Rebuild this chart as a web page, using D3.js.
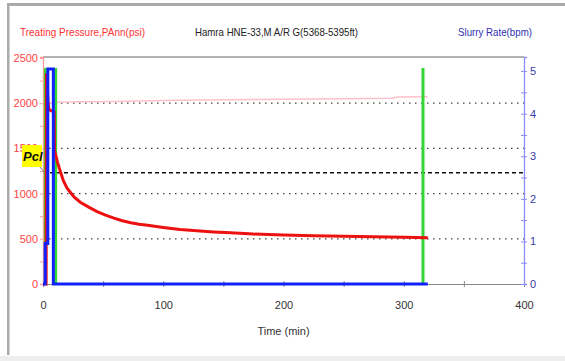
<!DOCTYPE html>
<html lang="en">
<head>
    <meta charset="UTF-8">
    <title>Hamra HNE-33 Treating Pressure</title>
    <script src="https://d3js.org/d3.v7.min.js"></script>
    <style>
        body { margin: 0; background: white; }
        text { font-family: "Liberation Sans", Arial, sans-serif; }
    </style>
</head>
<body>
    <div id="chart"></div>
    <script>
        // treating pressure (psi) vs time (min)
        const pTime = [0, 2.6, 2.9, 3.4, 4.2, 5, 7, 9.3, 9.6, 10.5, 12, 14, 17, 20, 23, 26, 31, 38, 45, 52, 59, 66, 73, 80, 87, 100, 114, 128, 142, 156, 175, 200, 225, 250, 275, 300, 320];
        const pressure = [0, 0, 2330, 2250, 2000, 1930, 1915, 1905, 1470, 1430, 1350, 1260, 1140, 1060, 1010, 960, 905, 850, 800, 762, 728, 700, 678, 662, 650, 626, 604, 588, 576, 566, 552, 541, 533, 527, 522, 518, 512];

        // annulus pressure (faint trace)
        const pAnnTime = [5, 8, 12, 30, 60, 100, 150, 200, 250, 290, 295, 320];
        const pAnn = [2005, 1995, 2010, 2015, 2020, 2030, 2038, 2045, 2050, 2055, 2068, 2070];

        // slurry rate (bpm)
        const rateTime = [0, 1.8, 1.8, 4, 4, 8.6, 8.6, 320];
        const rate = [0, 0, 0.95, 0.95, 5.05, 5.05, 0, 0];

        // event markers (vertical green lines)
        const markerTime = [2, 10.5, 316];
        const markerTop = 2390;

        const pclValue = 1230;
        const gridValues = [500, 1000, 1500, 2000];
        const xTicks = [0, 100, 200, 300, 400];
        const leftTicks = [0, 500, 1000, 1500, 2000, 2500];
        const rightTicks = [0, 1, 2, 3, 4, 5];

        const width = 565;
        const height = 361;
        const margin = { top: 57, right: 41, bottom: 77, left: 43 };
        const innerW = width - margin.left - margin.right;
        const innerH = height - margin.top - margin.bottom;

        const svg = d3.select('#chart').append('svg')
            .attr('width', width)
            .attr('height', height);

        // outer frame
        svg.append('rect').attr('x', 7).attr('y', 3).attr('width', width - 7).attr('height', 3).attr('fill', '#aaa');
        svg.append('rect').attr('x', 7).attr('y', 3).attr('width', 2.5).attr('height', 352).attr('fill', '#aaa');
        svg.append('rect').attr('x', 0).attr('y', 356).attr('width', width).attr('height', 5).attr('fill', '#eeeeee');

        // header texts
        svg.append('text').attr('x', 20).attr('y', 36).attr('fill', '#ff3333')
            .attr('font-size', 10.5).attr('textLength', 125).attr('lengthAdjust', 'spacingAndGlyphs')
            .text('Treating Pressure,PAnn(psi)');
        svg.append('text').attr('x', 195).attr('y', 36).attr('fill', '#222')
            .attr('font-size', 10.5).attr('textLength', 163).attr('lengthAdjust', 'spacingAndGlyphs')
            .text('Hamra HNE-33,M A/R G(5368-5395ft)');
        svg.append('text').attr('x', 458).attr('y', 36).attr('fill', '#3030b0')
            .attr('font-size', 10.5).attr('textLength', 74).attr('lengthAdjust', 'spacingAndGlyphs')
            .text('Slurry Rate(bpm)');

        const g = svg.append('g')
            .attr('transform', 'translate(' + margin.left + ',' + margin.top + ')');

        const x = d3.scaleLinear().domain([0, 400]).range([0, innerW]);
        const yP = d3.scaleLinear().domain([0, 2500 * 227 / 226]).range([innerH, 0]);
        const yR = d3.scaleLinear().domain([0, 5.33]).range([innerH, 0]);

        // top border of plot
        g.append('line').attr('x1', 0).attr('x2', innerW).attr('y1', 0).attr('y2', 0)
            .attr('stroke', '#999').attr('stroke-width', 1.5);

        // dotted grid lines
        g.append('g')
            .selectAll('line')
            .data(gridValues)
            .enter().append('line')
            .attr('x1', 0)
            .attr('x2', innerW)
            .attr('y1', d => yP(d))
            .attr('y2', d => yP(d))
            .attr('stroke', '#444')
            .attr('stroke-width', 1.3)
            .attr('stroke-dasharray', '1.5,4.5');

        // Pcl dashed line
        g.append('line')
            .attr('x1', 0).attr('x2', innerW)
            .attr('y1', yP(pclValue)).attr('y2', yP(pclValue))
            .attr('stroke', '#111')
            .attr('stroke-width', 1.6)
            .attr('stroke-dasharray', '4,3');

        // x axis
        const xAxis = g.append('g')
            .attr('transform', 'translate(0,' + innerH + ')')
            .call(d3.axisBottom(x).tickValues(d3.range(0, 401, 50)).tickSize(3).tickPadding(14)
                .tickFormat(d => xTicks.includes(d) ? d : ''));
        xAxis.select('.domain').attr('stroke', '#888');
        xAxis.selectAll('.tick line').attr('stroke', '#888').attr('y1', -3);
        xAxis.selectAll('.tick text').attr('fill', '#333').attr('font-size', 11)
            .attr('font-family', '"Liberation Sans", Arial, sans-serif');

        // left axis (pressure)
        const leftAxis = g.append('g')
            .call(d3.axisLeft(yP).tickValues(d3.range(0, 2501, 250)).tickSize(3).tickPadding(2)
                .tickFormat(d => leftTicks.includes(d) ? d : ''));
        leftAxis.select('.domain').attr('stroke', '#ff9a9a').attr('stroke-width', 1.3);
        leftAxis.selectAll('.tick line').attr('stroke', '#ff9a9a');
        leftAxis.selectAll('.tick text').attr('fill', '#ff4545').attr('font-size', 11)
            .attr('font-family', '"Liberation Sans", Arial, sans-serif');

        // right axis (rate)
        const rightAxis = g.append('g')
            .attr('transform', 'translate(' + innerW + ',0)')
            .call(d3.axisRight(yR).tickValues(d3.range(0, 5.01, 0.5)).tickSize(3).tickPadding(3)
                .tickFormat(d => rightTicks.includes(d) ? d : ''));
        rightAxis.select('.domain').attr('stroke', '#8c8cff').attr('stroke-width', 1.3);
        rightAxis.selectAll('.tick line').attr('stroke', '#8c8cff').attr('x1', -3);
        rightAxis.selectAll('.tick text').attr('fill', '#3a3aa8').attr('font-size', 11)
            .attr('font-family', '"Liberation Sans", Arial, sans-serif');

        // x axis title
        g.append('text')
            .attr('x', x(200))
            .attr('y', innerH + 51)
            .attr('text-anchor', 'middle')
            .attr('font-size', 11)
            .attr('fill', '#333')
            .text('Time (min)');

        // faint annulus pressure
        const linePAnn = d3.line().x((d, i) => x(pAnnTime[i])).y(d => yP(d));
        g.append('path')
            .datum(pAnn)
            .attr('fill', 'none')
            .attr('stroke', '#ffc0cc')
            .attr('stroke-width', 1.5)
            .attr('d', linePAnn);

        // green markers
        g.append('g')
            .selectAll('line')
            .data(markerTime)
            .enter().append('line')
            .attr('x1', d => x(d))
            .attr('x2', d => x(d))
            .attr('y1', yP(0))
            .attr('y2', yP(markerTop))
            .attr('stroke', '#33d633')
            .attr('stroke-width', 3);

        // treating pressure
        const lineP = d3.line().x((d, i) => x(pTime[i])).y(d => yP(d));
        g.append('path')
            .datum(pressure)
            .attr('fill', 'none')
            .attr('stroke', '#ee1111')
            .attr('stroke-width', 3)
            .attr('d', lineP);

        // slurry rate
        const lineR = d3.line().x((d, i) => x(rateTime[i])).y(d => yR(d));
        g.append('path')
            .datum(rate)
            .attr('fill', 'none')
            .attr('stroke', '#1020ff')
            .attr('stroke-width', 3)
            .attr('d', lineR);

        // Pcl label
        const pcl = svg.append('g');
        pcl.append('line')
            .attr('x1', 39).attr('y1', 166)
            .attr('x2', margin.left + 2).attr('y2', margin.top + yP(pclValue))
            .attr('stroke', '#777').attr('stroke-width', 1);
        pcl.append('rect')
            .attr('x', 22).attr('y', 145)
            .attr('width', 20).attr('height', 22)
            .attr('fill', '#ffff00');
        pcl.append('text')
            .attr('x', 23).attr('y', 161)
            .attr('font-size', 13)
            .attr('font-weight', 'bold')
            .attr('font-style', 'italic')
            .attr('fill', '#111')
            .text('Pcl');
    </script>
</body>
</html>
